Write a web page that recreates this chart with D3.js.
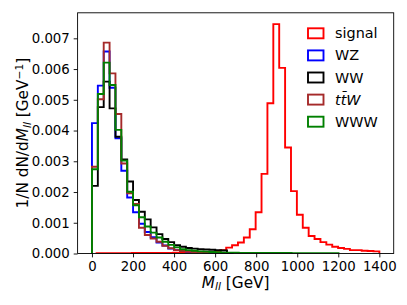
<!DOCTYPE html>
<html>
<head>
<meta charset="utf-8">
<script src="https://cdn.jsdelivr.net/npm/d3@7"></script>
<style>
  html, body { margin: 0; padding: 0; background: #fff; }
  svg text { font-family: "DejaVu Sans", sans-serif; fill: #000; }
</style>
</head>
<body>
<svg id="chart" width="407" height="305"></svg>
<script>
// ---- data ----
const seriesNames = ["signal", "WZ", "WW", "ttW", "WWW"];
const seriesColors = ["#ff0000", "#0000ff", "#000000", "#a52a2a", "#008000"];

// signal histogram: bin start and width (GeV)
const signalBinStart = 22.5;
const signalBinWidth = 28.7;
const signalValues = [
  0.00001, 0.00001, 0.00001, 0.00001, 0.00001, 0.00001, 0.00002, 0.00002, 0.00002, 0.00002,
  0.00002, 0.00002, 0.00002, 0.00003, 0.00003, 0.00003, 0.00003, 0.00004, 0.00004, 0.00005,
  0.00007, 0.00011, 0.00019, 0.00027, 0.00036, 0.00052, 0.00079, 0.00134, 0.00259, 0.00489,
  0.00746, 0.00604, 0.00345, 0.00203, 0.00126, 0.00084, 0.00057, 0.00047, 0.00037, 0.00029,
  0.00022, 0.00018, 0.00015, 0.00011, 0.00011, 0.00009, 0.00008, 0.00007
];

// background histograms: bins start at 0
const bkgBinWidth = 28.6;
const wzValues = [
  0.00424, 0.00546, 0.00657, 0.00539, 0.00375, 0.00269, 0.00182, 0.00134, 0.00097, 0.00070,
  0.00053, 0.00036, 0.00026, 0.00016, 0.00011, 0.00008, 0.00006, 0.00005, 0.00004, 0.00003,
  0.00002, 0.00002, 0.00001, 0.00001
];
const wwValues = [
  0.00220, 0.00476, 0.00559, 0.00472, 0.00380, 0.00306, 0.00234, 0.00174, 0.00136, 0.00111,
  0.00085, 0.00063, 0.00047, 0.00037, 0.00027, 0.00022, 0.00018, 0.00016, 0.00014, 0.00013,
  0.00012, 0.00011, 0.00010, 0.00002
];
const ttwValues = [
  0.00282, 0.00502, 0.00686, 0.00586, 0.00454, 0.00293, 0.00196, 0.00161, 0.00084, 0.00060,
  0.00049, 0.00038, 0.00025, 0.00017, 0.00011, 0.00008, 0.00006, 0.00005, 0.00004, 0.00003,
  0.00002, 0.00002, 0.00001
];
const wwwValues = [
  0.00274, 0.00519, 0.00621, 0.00548, 0.00402, 0.00302, 0.00201, 0.00157, 0.00118, 0.00088,
  0.00068, 0.00052, 0.00038, 0.00028, 0.00020, 0.00014, 0.00011, 0.00009, 0.00007, 0.00006,
  0.00005, 0.00004, 0.00003, 0.00003, 0.00003, 0.00002, 0.00002, 0.00002, 0.00002, 0.00002,
  0.00002, 0.00002, 0.00002, 0.00002, 0.00001, 0.00001, 0.00001, 0.00001, 0.00001, 0.00001,
  0.00001, 0.00001
];

const xTicks = [0, 200, 400, 600, 800, 1000, 1200, 1400];
const yTicks = [0, 0.001, 0.002, 0.003, 0.004, 0.005, 0.006, 0.007];

// ---- layout ----
const svg = d3.select("#chart");
const plot = { left: 77.6, right: 393.7, top: 12.8, bottom: 253.5 };
const tickFont = 13.3, labelFont = 15.3, legendFont = 14.4;

const x = d3.scaleLinear().domain([-70, 1470]).range([plot.left, plot.right]);
const y = d3.scaleLinear().domain([0, 0.00783]).range([plot.bottom, plot.top]);

svg.append("rect").attr("width", 407).attr("height", 305).attr("fill", "#fff");

svg.append("defs").append("clipPath").attr("id", "clip")
  .append("rect").attr("x", plot.left).attr("y", plot.top)
  .attr("width", plot.right - plot.left).attr("height", plot.bottom - plot.top);

function stepPath(start, width, values) {
  const pts = [[x(start), y(0)]];
  values.forEach((v, i) => {
    const e0 = start + i * width, e1 = start + (i + 1) * width;
    pts.push([x(e0), y(v)]);
    pts.push([x(e1), y(v)]);
  });
  pts.push([x(start + values.length * width), y(0)]);
  return d3.line()(pts);
}

const hists = [
  { start: signalBinStart, width: signalBinWidth, values: signalValues },
  { start: 0, width: bkgBinWidth, values: wzValues },
  { start: 0, width: bkgBinWidth, values: wwValues },
  { start: 0, width: bkgBinWidth, values: ttwValues },
  { start: 0, width: bkgBinWidth, values: wwwValues }
];

const g = svg.append("g").attr("clip-path", "url(#clip)");
hists.forEach((h, i) => {
  g.append("path")
    .attr("d", stepPath(h.start, h.width, h.values))
    .attr("fill", "none")
    .attr("stroke", seriesColors[i])
    .attr("stroke-width", 1.9)
    .attr("stroke-linejoin", "miter");
});

// axes
const xAxis = svg.append("g").attr("transform", `translate(0,${plot.bottom})`)
  .call(d3.axisBottom(x).tickValues(xTicks).tickSize(3.9).tickPadding(3.9).tickFormat(d3.format("d")));
const yAxis = svg.append("g").attr("transform", `translate(${plot.left},0)`)
  .call(d3.axisLeft(y).tickValues(yTicks).tickSize(3.9).tickPadding(3.9).tickFormat(d3.format(".3f")));
[xAxis, yAxis].forEach(a => {
  a.select(".domain").remove();
  a.selectAll("line").attr("stroke", "#000").attr("stroke-width", 0.9);
  a.selectAll("text").attr("font-size", tickFont).attr("font-family", "DejaVu Sans");
});

// frame
svg.append("rect")
  .attr("x", plot.left).attr("y", plot.top)
  .attr("width", plot.right - plot.left).attr("height", plot.bottom - plot.top)
  .attr("fill", "none").attr("stroke", "#000").attr("stroke-width", 0.9);

// x label
const xl = svg.append("text")
  .attr("x", (plot.left + plot.right) / 2).attr("y", 287.5)
  .attr("text-anchor", "middle").attr("font-size", labelFont);
xl.append("tspan").attr("font-style", "italic").text("M");
xl.append("tspan").attr("font-style", "italic").attr("font-size", labelFont * 0.7).attr("dy", 2.8).text("ll");
xl.append("tspan").attr("dy", -2.8).text(" [GeV]");

// y label
const yl = svg.append("text")
  .attr("transform", `translate(28,${(plot.top + plot.bottom) / 2}) rotate(-90)`)
  .attr("text-anchor", "middle").attr("font-size", labelFont);
yl.append("tspan").text("1/N dN/d");
yl.append("tspan").attr("font-style", "italic").text("M");
yl.append("tspan").attr("font-style", "italic").attr("font-size", labelFont * 0.7).attr("dy", 2.8).text("ll");
yl.append("tspan").attr("dy", -2.8).text(" [GeV");
yl.append("tspan").attr("font-size", labelFont * 0.7).attr("dy", -5.5).text("−1");
yl.append("tspan").attr("dy", 5.5).text("]");

// legend
const legend = svg.append("g");
const legendLabels = [
  (t) => t.text("signal"),
  (t) => t.text("WZ"),
  (t) => t.text("WW"),
  (t) => { t.append("tspan").attr("font-style", "italic").text("t"); t.append("tspan").attr("font-style", "italic").text("t̄"); t.append("tspan").attr("font-style", "italic").text("W"); },
  (t) => t.text("WWW")
];
seriesNames.forEach((name, i) => {
  const cy = 33.3 + i * 22.1;
  legend.append("rect")
    .attr("x", 308).attr("y", cy - 5).attr("width", 15.5).attr("height", 10)
    .attr("fill", "none").attr("stroke", seriesColors[i]).attr("stroke-width", 1.9);
  const t = legend.append("text").attr("x", 335).attr("y", cy + 5).attr("font-size", legendFont);
  legendLabels[i](t);
});
</script>
</body>
</html>
